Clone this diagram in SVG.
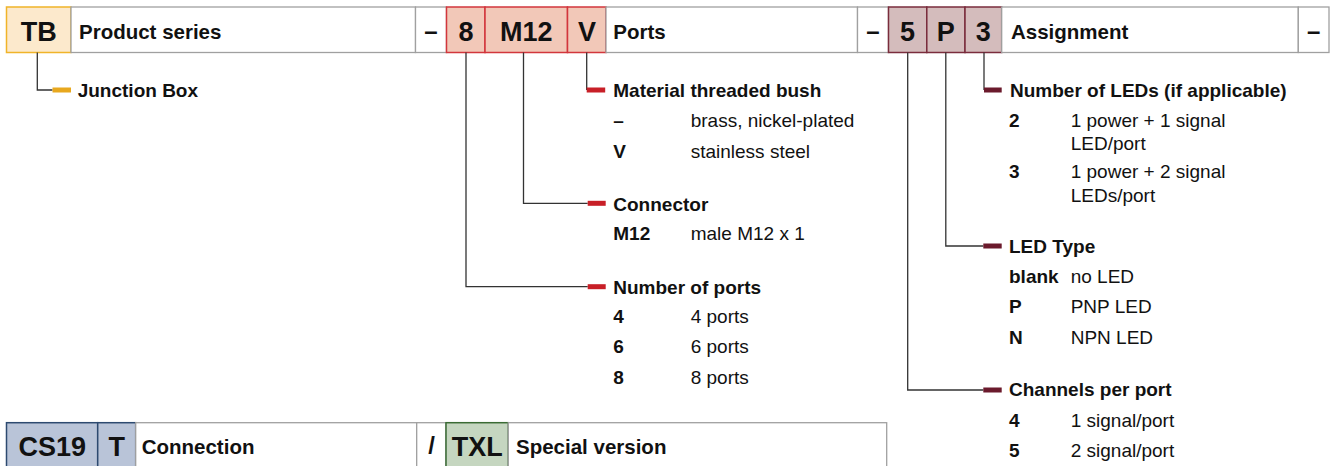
<svg xmlns="http://www.w3.org/2000/svg" width="1337" height="466" viewBox="0 0 1337 466">
<style>
text{font-family:"Liberation Sans",Arial,sans-serif;fill:#111}
.hd{font-size:20.5px;font-weight:bold}
.cd{font-size:27px;font-weight:bold;text-anchor:middle}
.dash{font-size:24px;font-weight:bold;text-anchor:middle}
.lb{font-size:19px;font-weight:bold}
.k{font-size:19px;font-weight:bold}
.v{font-size:19px}
.wb{fill:#fff;stroke:#a0a0a0;stroke-width:1.3}
.tb{fill:#fce9cc;stroke:#f0b429;stroke-width:1.5}
.rd{fill:#f2c8b8;stroke:#d2363c;stroke-width:1.5}
.mr{fill:#d4bcbc;stroke:#7a2c3c;stroke-width:1.5}
.bl{fill:#b9c4d8;stroke:#2d4a70;stroke-width:1.5}
.gr{fill:#c5d6c0;stroke:#3a6b34;stroke-width:1.5}
.ln{fill:none;stroke:#333;stroke-width:1.3}
.bo{fill:#e8a81e}
.br{fill:#c81f27}
.bm{fill:#6b1a2c}
</style>
<rect width="1337" height="466" fill="#fff"/>
<g id="topbar">
  <g id="n-tb"><rect class="tb" x="6.5" y="7" width="64.5" height="45.5"/><text class="cd" x="38.8" y="40.5">TB</text></g>
  <g id="n-series"><rect class="wb" x="71" y="7" width="344.5" height="45.5"/><text class="hd" x="79" y="39">Product series</text></g>
  <g id="n-dash1"><rect class="wb" x="415.5" y="7" width="31" height="45.5"/><text class="dash" x="431" y="39">–</text></g>
  <g id="n-8"><rect class="rd" x="446.5" y="7" width="38.5" height="45.5"/><text class="cd" x="466" y="40.5">8</text></g>
  <g id="n-m12"><rect class="rd" x="485" y="7" width="82.5" height="45.5"/><text class="cd" x="526.3" y="40.5">M12</text></g>
  <g id="n-v"><rect class="rd" x="567.5" y="7" width="38.5" height="45.5"/><text class="cd" x="587" y="40.5">V</text></g>
  <g id="n-ports"><rect class="wb" x="606" y="7" width="251.5" height="45.5"/><text class="hd" x="613.3" y="39">Ports</text></g>
  <g id="n-dash2"><rect class="wb" x="857.5" y="7" width="31" height="45.5"/><text class="dash" x="873" y="39">–</text></g>
  <g id="n-5"><rect class="mr" x="888.5" y="7" width="38.3" height="45.5"/><text class="cd" x="907.5" y="40.5">5</text></g>
  <g id="n-p"><rect class="mr" x="926.8" y="7" width="38.2" height="45.5"/><text class="cd" x="945.8" y="40.5">P</text></g>
  <g id="n-3"><rect class="mr" x="965" y="7" width="36.7" height="45.5"/><text class="cd" x="983.3" y="40.5">3</text></g>
  <g id="n-assign"><rect class="wb" x="1001.7" y="7" width="296.6" height="45.5"/><text class="hd" x="1011" y="39">Assignment</text></g>
  <g id="n-dash3"><rect class="wb" x="1298.3" y="7" width="30.7" height="45.5"/><text class="dash" x="1313.7" y="39">–</text></g>
</g>
<g id="connectors">
  <path class="ln" d="M37.3 52.5V90H52.5"/><rect class="bo" x="52.5" y="87.5" width="18.5" height="5"/>
  <path class="ln" d="M586.7 52.5V90"/><rect class="br" x="586.7" y="87.5" width="18.5" height="5"/>
  <path class="ln" d="M523.5 52.5V203.3H587.7"/><rect class="br" x="587.7" y="200.8" width="18" height="5"/>
  <path class="ln" d="M466 52.5V286.7H587.7"/><rect class="br" x="587.7" y="284.2" width="18" height="5"/>
  <path class="ln" d="M984 52.5V90"/><rect class="bm" x="984" y="87.5" width="17.7" height="5"/>
  <path class="ln" d="M945.8 52.5V246H983.3"/><rect class="bm" x="983.3" y="243.5" width="18.4" height="5"/>
  <path class="ln" d="M907.7 52.5V390H983.3"/><rect class="bm" x="983.3" y="387.5" width="18.4" height="5"/>
</g>
<g id="l-junction"><text class="lb" x="77.7" y="96.5">Junction Box</text></g>
<g id="l-material">
  <text class="lb" x="613.3" y="96.7">Material threaded bush</text>
  <text class="k" x="613.3" y="127">–</text><text class="v" x="690.7" y="127">brass, nickel-plated</text>
  <text class="k" x="613.3" y="158.3">V</text><text class="v" x="690.7" y="158.3">stainless steel</text>
</g>
<g id="l-connector">
  <text class="lb" x="613.3" y="211">Connector</text>
  <text class="k" x="613.3" y="240">M12</text><text class="v" x="690.7" y="240">male M12 x 1</text>
</g>
<g id="l-ports">
  <text class="lb" x="613.3" y="293.5">Number of ports</text>
  <text class="k" x="613.3" y="323.3">4</text><text class="v" x="690.7" y="323.3">4 ports</text>
  <text class="k" x="613.3" y="353.3">6</text><text class="v" x="690.7" y="353.3">6 ports</text>
  <text class="k" x="613.3" y="384">8</text><text class="v" x="690.7" y="384">8 ports</text>
</g>
<g id="l-leds">
  <text class="lb" x="1010" y="96.7">Number of LEDs (if applicable)</text>
  <text class="k" x="1009" y="126.7">2</text><text class="v" x="1070.7" y="126.7">1 power + 1 signal</text>
  <text class="v" x="1070.7" y="150">LED/port</text>
  <text class="k" x="1009" y="178.3">3</text><text class="v" x="1070.7" y="178.3">1 power + 2 signal</text>
  <text class="v" x="1070.7" y="201.7">LEDs/port</text>
</g>
<g id="l-ledtype">
  <text class="lb" x="1009" y="252.7">LED Type</text>
  <text class="k" x="1009" y="283.3">blank</text><text class="v" x="1070.7" y="283.3">no LED</text>
  <text class="k" x="1009" y="313.3">P</text><text class="v" x="1070.7" y="313.3">PNP LED</text>
  <text class="k" x="1009" y="344">N</text><text class="v" x="1070.7" y="344">NPN LED</text>
</g>
<g id="l-channels">
  <text class="lb" x="1009" y="396">Channels per port</text>
  <text class="k" x="1009" y="426.7">4</text><text class="v" x="1070.7" y="426.7">1 signal/port</text>
  <text class="k" x="1009" y="456.7">5</text><text class="v" x="1070.7" y="456.7">2 signal/port</text>
</g>
<g id="bottombar">
  <g id="n-cs19"><rect class="bl" x="6.5" y="422.7" width="91.2" height="50"/><text class="cd" x="52.2" y="455.5">CS19</text></g>
  <g id="n-t"><rect class="bl" x="97.7" y="422.7" width="38" height="50"/><text class="cd" x="116.7" y="455.5">T</text></g>
  <g id="n-connection"><rect class="wb" x="135.7" y="422.7" width="281" height="50"/><text class="hd" x="141.7" y="454">Connection</text></g>
  <g id="n-slash"><rect class="wb" x="416.7" y="422.7" width="29.3" height="50"/><text class="dash" x="431.5" y="454">/</text></g>
  <g id="n-txl"><rect class="gr" x="446" y="422.7" width="62.3" height="50"/><text class="cd" x="477.2" y="455.5">TXL</text></g>
  <g id="n-special"><rect class="wb" x="508.3" y="422.7" width="378.4" height="50"/><text class="hd" x="516" y="454">Special version</text></g>
</g>
</svg>
